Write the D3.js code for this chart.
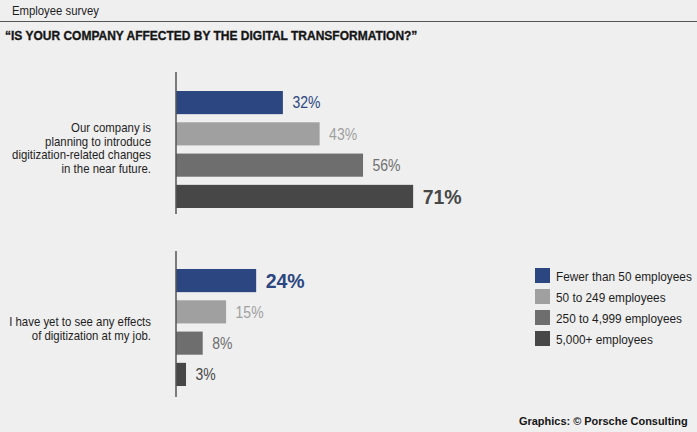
<!DOCTYPE html>
<html><head><meta charset="utf-8">
<script src="https://cdn.jsdelivr.net/npm/d3@7"></script>
<style>
html,body{margin:0;padding:0;background:#efefef;}
svg{display:block;}
text{font-family:"Liberation Sans",Arial,sans-serif;}
</style></head>
<body><svg id="c" width="697" height="432"></svg>
<script>
const series = ["Fewer than 50 employees","50 to 249 employees","250 to 4,999 employees","5,000+ employees"];
const colors = ["#2b4680","#a0a0a0","#6e6e6e","#474747"];
const groups = [
  ["Our company is","planning to introduce","digitization-related changes","in the near future."],
  ["I have yet to see any effects","of digitization at my job."]
];
const values = [
  [32,43,56,71],
  [24,15,8,3]
];
const highlight = [3,0];

const svg = d3.select("#c");
svg.append("rect").attr("width",697).attr("height",432).attr("fill","#efefef");

function fitText(parent, str, x, y, target, opts){
  const t = parent.append("text").attr("x",0).attr("y",0)
    .attr("font-size",opts.size).attr("font-weight",opts.weight||"normal")
    .attr("fill",opts.fill||"#1e1e1e").attr("text-anchor",opts.anchor||"start").text(str);
  if (opts.stroke) t.attr("stroke",opts.fill).attr("stroke-width",opts.stroke);
  const w = t.node().getComputedTextLength();
  const k = target ? target / w : (opts.k||1);
  t.attr("transform",`translate(${x},${y}) scale(${k},1)`);
  return k;
}

fitText(svg,"Employee survey",12,14.5,87,{size:12});
svg.append("line").attr("x1",0).attr("x2",697).attr("y1",21.5).attr("y2",21.5).attr("stroke","#555").attr("stroke-width",1);
fitText(svg,"\u201CIS YOUR COMPANY AFFECTED BY THE DIGITAL TRANSFORMATION?\u201D",5,39.5,412,{size:13.2,weight:"bold",fill:"#151515",stroke:0.35});

const x = d3.scaleLinear().domain([0,100]).range([176,510]);
const groupTop = [91,269];
const axisRange = [[72,214],[251,397]];
const y = d3.scaleBand().domain(d3.range(4)).range([0,117]).paddingInner(0.26).paddingOuter(0);
const labelBase = [[132,145.7,159.3,173],[326,339.5]];

const probe = svg.append("text").attr("font-size",16).text("32%");
const kVal = 28 / probe.node().getComputedTextLength(); probe.remove();
const probeB = svg.append("text").attr("font-size",21).attr("font-weight","bold").text("71%");
const kValB = 39 / probeB.node().getComputedTextLength(); probeB.remove();
const probeL = svg.append("text").attr("font-size",12).text("digitization-related changes");
const kLab = 139 / probeL.node().getComputedTextLength(); probeL.remove();

groups.forEach((lines,gi)=>{
  const g = svg.append("g").attr("transform",`translate(0,${groupTop[gi]})`);
  g.selectAll("rect.bar").data(values[gi]).join("rect").attr("class","bar")
    .attr("x",x(0)).attr("y",(d,i)=>y(i)).attr("width",d=>x(d)-x(0)).attr("height",y.bandwidth())
    .attr("fill",(d,i)=>colors[i]);
  g.selectAll("text.val").data(values[gi]).join("text").attr("class","val")
    .attr("x",0).attr("y",0).attr("dy","0.36em")
    .attr("font-size",(d,i)=>i===highlight[gi]?21:16)
    .attr("font-weight",(d,i)=>i===highlight[gi]?"bold":"normal")
    .attr("fill",(d,i)=>colors[i])
    .attr("transform",(d,i)=>`translate(${x(d)+9.5},${y(i)+y.bandwidth()/2}) scale(${i===highlight[gi]?kValB:kVal},1)`)
    .text(d=>d+"%");
  svg.append("line").attr("x1",176).attr("x2",176).attr("y1",axisRange[gi][0]).attr("y2",axisRange[gi][1])
    .attr("stroke","#555").attr("stroke-width",1.5);
  lines.forEach((l,li)=>{
    fitText(svg,l,151,labelBase[gi][li],null,{size:12,anchor:"end",k:kLab});
  });
});

const lg = svg.append("g").attr("transform","translate(535,268)");
series.forEach((s,i)=>{
  lg.append("rect").attr("x",0).attr("y",i*21).attr("width",15).attr("height",15).attr("fill",colors[i]);
});
const probeG = svg.append("text").attr("font-size",13).text(series[0]);
const kLeg = 136 / probeG.node().getComputedTextLength(); probeG.remove();
series.forEach((s,i)=>{
  fitText(lg,s,21,13+i*21,null,{size:13,k:kLeg,fill:"#1e1e1e"});
});

fitText(svg,"Graphics: \u00A9 Porsche Consulting",519,425,169,{size:11.5,weight:"bold",fill:"#151515"});
</script></body></html>
